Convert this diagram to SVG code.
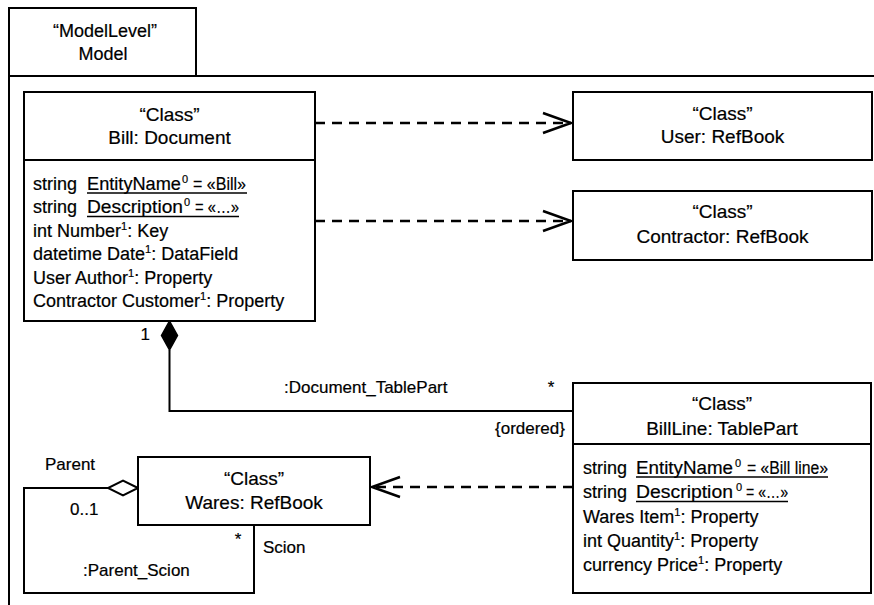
<svg xmlns="http://www.w3.org/2000/svg" width="874" height="605" viewBox="0 0 874 605">
<style>
text{font-family:"Liberation Sans",Arial,sans-serif;font-size:18px;fill:#000;stroke:#000;stroke-width:0.2}
.c{text-anchor:middle}
.h{font-size:19px}
.lb{font-size:17px}
.box{fill:#fff;stroke:#000;stroke-width:2}
.ln{fill:none;stroke:#000;stroke-width:2}
.ul{fill:none;stroke:#000;stroke-width:1.5}
.dash{fill:none;stroke:#000;stroke-width:2.5;stroke-dasharray:10 7}
.sup{font-size:11px}
</style>
<defs>
<marker id="open" markerUnits="userSpaceOnUse" markerWidth="32" markerHeight="24" refX="28" refY="10" orient="auto" overflow="visible">
<path d="M0,0 L28,10 L0,20" fill="none" stroke="#000" stroke-width="2.5" stroke-dasharray="none"/>
</marker>
</defs>
<rect width="874" height="605" fill="#fff"/>
<g id="frame">
<path class="ln" d="M9,605 V8 H196 V76 M9,76 H874"/>
<text class="c" x="105" y="37">“ModelLevel”</text>
<text class="c" x="103" y="60">Model</text>
</g>
<g id="connectors">
<path class="dash" d="M315,123 H571" marker-end="url(#open)"/>
<path class="dash" d="M315,221 H571" marker-end="url(#open)"/>
<path class="dash" d="M573,487 H372" marker-end="url(#open)"/>
<path class="ln" d="M169.5,350 V411 H573"/>
<polygon points="169.5,321 177.5,335.5 169.5,350 161.5,335.5" fill="#000" stroke="#000" stroke-width="1.5"/>
<text class="lb" x="150" y="340" text-anchor="end">1</text>
<text class="lb" x="284" y="393">:Document_TablePart</text>
<text class="lb c" x="551" y="393">*</text>
<text class="lb" x="495" y="434">{ordered}</text>
<path class="ln" d="M108,488 H24 V593 H254 V525"/>
<polygon points="138,488 123,480.5 108,488 123,495.5" fill="#fff" stroke="#000" stroke-width="2"/>
<text class="lb" x="45" y="470">Parent</text>
<text class="lb" x="70" y="515">0..1</text>
<text class="lb c" x="238" y="545">*</text>
<text class="lb" x="263" y="553">Scion</text>
<text class="lb" x="83" y="576">:Parent_Scion</text>
</g>
<g id="bill">
<rect class="box" x="24" y="92" width="291" height="229"/>
<line class="ln" x1="24" y1="160" x2="315" y2="160"/>
<text class="c h" x="169.5" y="121">“Class”</text>
<text class="c h" x="169.5" y="144">Bill: Document</text>
<text x="33" y="190">string</text>
<text x="87" y="190" textLength="94" lengthAdjust="spacingAndGlyphs">EntityName</text>
<text class="sup" x="182" y="183">0</text>
<text x="193" y="190" textLength="53" lengthAdjust="spacingAndGlyphs">= «Bill»</text>
<line class="ul" x1="87" y1="193" x2="247" y2="193"/>
<text x="33" y="213">string</text>
<text x="87" y="213" textLength="96" lengthAdjust="spacingAndGlyphs">Description</text>
<text class="sup" x="184" y="206">0</text>
<text x="195" y="213" textLength="44" lengthAdjust="spacingAndGlyphs">= «…»</text>
<line class="ul" x1="87" y1="216.5" x2="239" y2="216.5"/>
<text x="33" y="237">int Number<tspan class="sup" dy="-7">1</tspan><tspan dy="7">: Key</tspan></text>
<text x="33" y="260">datetime Date<tspan class="sup" dy="-7">1</tspan><tspan dy="7">: DataField</tspan></text>
<text x="33" y="284">User Author<tspan class="sup" dy="-7">1</tspan><tspan dy="7">: Property</tspan></text>
<text x="33" y="307">Contractor Customer<tspan class="sup" dy="-7">1</tspan><tspan dy="7">: Property</tspan></text>
</g>
<g id="user">
<rect class="box" x="573" y="92" width="299" height="68"/>
<text class="c h" x="722.5" y="120">“Class”</text>
<text class="c h" x="722.5" y="143">User: RefBook</text>
</g>
<g id="contractor">
<rect class="box" x="573" y="191" width="299" height="69"/>
<text class="c h" x="722.5" y="218">“Class”</text>
<text class="c h" x="722.5" y="243">Contractor: RefBook</text>
</g>
<g id="billline">
<rect class="box" x="573" y="383" width="298" height="210"/>
<line class="ln" x1="573" y1="444" x2="871" y2="444"/>
<text class="c h" x="722" y="410">“Class”</text>
<text class="c h" x="722" y="435">BillLine: TablePart</text>
<text x="583" y="474">string</text>
<text x="636" y="474" textLength="97" lengthAdjust="spacingAndGlyphs">EntityName</text>
<text class="sup" x="735" y="467">0</text>
<text x="747" y="474" textLength="81" lengthAdjust="spacingAndGlyphs">= «Bill line»</text>
<line class="ul" x1="636" y1="477" x2="828" y2="477"/>
<text x="583" y="498">string</text>
<text x="636" y="498" textLength="97" lengthAdjust="spacingAndGlyphs">Description</text>
<text class="sup" x="736" y="491">0</text>
<text x="746" y="498" textLength="42" lengthAdjust="spacingAndGlyphs">= «…»</text>
<line class="ul" x1="636" y1="501.5" x2="788" y2="501.5"/>
<text x="583" y="523">Wares Item<tspan class="sup" dy="-7">1</tspan><tspan dy="7">: Property</tspan></text>
<text x="583" y="547">int Quantity<tspan class="sup" dy="-7">1</tspan><tspan dy="7">: Property</tspan></text>
<text x="583" y="571">currency Price<tspan class="sup" dy="-7">1</tspan><tspan dy="7">: Property</tspan></text>
</g>
<g id="wares">
<rect class="box" x="138" y="457" width="232" height="68"/>
<text class="c h" x="254" y="485">“Class”</text>
<text class="c h" x="254" y="509">Wares: RefBook</text>
</g>
</svg>
